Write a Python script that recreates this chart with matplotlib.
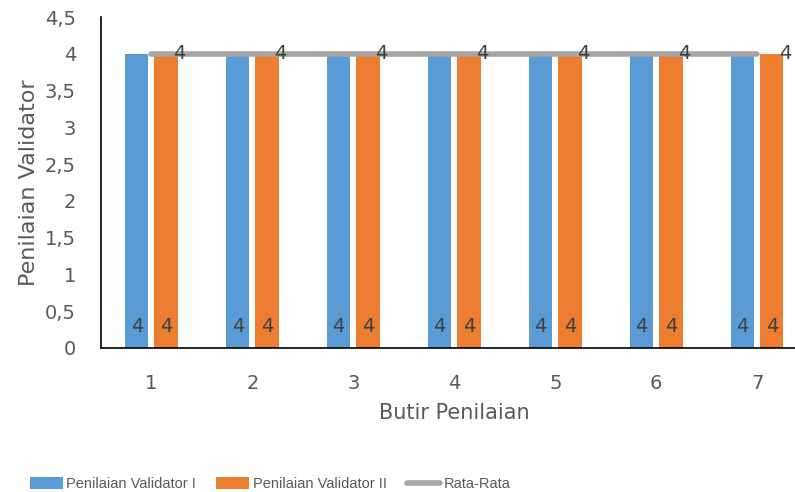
import matplotlib.pyplot as plt
from matplotlib.ticker import FuncFormatter
from matplotlib.font_manager import FontProperties

butir = [1, 2, 3, 4, 5, 6, 7]
validator_1 = [4, 4, 4, 4, 4, 4, 4]
validator_2 = [4, 4, 4, 4, 4, 4, 4]
rata_rata = [4, 4, 4, 4, 4, 4, 4]

plt.rcParams['font.family'] = ['DejaVu Sans']
txt = '#595959'

fig = plt.figure(figsize=(7.95, 4.92), dpi=100)
ax = fig.add_axes([0.127, 0.2927, 0.889, 0.6727])

w = 0.23
off = 0.145
xs_1 = [x - off for x in butir]
xs_2 = [x + off for x in butir]
b1 = ax.bar(xs_1, validator_1, width=w, color='#5B9BD5', label='Penilaian Validator I')
b2 = ax.bar(xs_2, validator_2, width=w, color='#ED7D31', label='Penilaian Validator II')
ln, = ax.plot(butir, rata_rata, color='#A5A5A5', linewidth=4, solid_capstyle='round',
              label='Rata-Rata', zorder=3)

# value labels at the bottom of the bars
for x, v in zip(xs_1, validator_1):
    ax.text(x, 0.16, str(v), ha='center', va='bottom', fontsize=14, color='#404040')
for x, v in zip(xs_2, validator_2):
    ax.text(x, 0.16, str(v), ha='center', va='bottom', fontsize=14, color='#404040')
for x, v in zip(butir, rata_rata):
    ax.text(x + 0.28, v, str(v), ha='center', va='center', fontsize=14, color='#404040')

ax.set_xlim(0.5, 7.5)
ax.set_ylim(0, 4.5)
ax.set_yticks([i * 0.5 for i in range(10)])
ax.yaxis.set_major_formatter(FuncFormatter(lambda v, p: ('%g' % v).replace('.', ',')))
ax.set_xticks(butir)
ax.tick_params(length=0, labelsize=14, labelcolor=txt)
ax.tick_params(axis='x', pad=19)
ax.tick_params(axis='y', pad=18)

for s in ['top', 'right']:
    ax.spines[s].set_visible(False)
for s in ['left', 'bottom']:
    ax.spines[s].set_color('#000000')
    ax.spines[s].set_linewidth(1.2)

ax.set_xlabel('Butir Penilaian', fontsize=15, color=txt, labelpad=7)
ax.set_ylabel('Penilaian Validator', fontsize=16, color=txt, labelpad=4)

leg_font = FontProperties(family=['Liberation Sans Narrow', 'Liberation Sans'], size=10.5)
fig.legend(handles=[b1, b2, ln], loc='lower center', bbox_to_anchor=(0.34, -0.025), ncol=3,
           frameon=False, prop=leg_font, labelcolor=txt, handlelength=2.26,
           handleheight=0.85, columnspacing=1.37, handletextpad=0.27)

fig.savefig('out.png', dpi=100)
